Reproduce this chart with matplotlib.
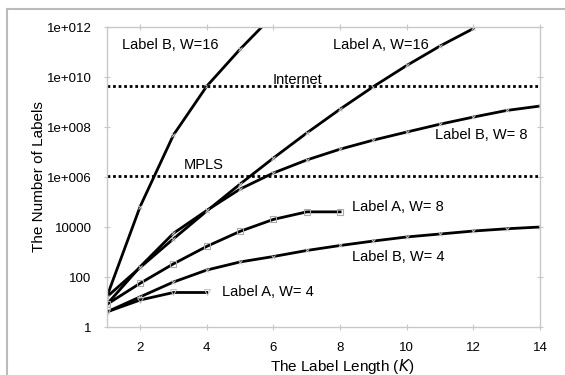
import numpy as np
import matplotlib
matplotlib.use("Agg")
import matplotlib.pyplot as plt
from matplotlib.lines import Line2D

plt.rcParams['font.family'] = ['Liberation Sans', 'DejaVu Sans']

# данные
k_a4 = [1, 2, 3, 4]
a4 = [4, 12, 24, 24]
k_a8 = [1, 2, 3, 4, 5, 6, 7, 8]
a8 = [8, 56, 336, 1680, 6720, 20160, 40320, 40320]
k_a16 = [1, 2, 3, 4, 5, 6, 7, 8, 9, 10, 11, 12]
a16 = [16, 240, 3360, 43680, 524160, 5765760, 57657600, 518918400,
       4151347200, 29059430400, 174356582400, 871782912000]

k_b = [1, 2, 3, 4, 5, 6, 7, 8, 9, 10, 11, 12, 13, 14]
b4 = [4, 16, 63, 190, 400, 660, 1150, 1820, 2750, 4000, 5250, 6900, 8500, 10000]
b8 = [8, 256, 5600, 46000, 3.3e5, 1.45e6, 4.8e6, 1.3e7, 3.0e7, 6.3e7,
      1.3e8, 2.5e8, 4.6e8, 6.9e8]
k_b16 = [1, 2, 3, 4, 5, 6]
b16 = [16, 65536, 4.8e7, 4.3e9, 1.3e11, 3e12]

internet = 4.29e9
mpls = 1.05e6

yticks = [1, 1e2, 1e4, 1e6, 1e8, 1e10, 1e12]
ytick_labels = ["1", "100", "10000", "1e+006", "1e+008", "1e+010", "1e+012"]
xticks = [2, 4, 6, 8, 10, 12, 14]

fig = plt.figure(figsize=(5.65, 3.75), dpi=100)
ax = fig.add_axes([0.189, 0.128, 0.767, 0.8])

lw = 2.0
mk = dict(markersize=3.5, markeredgecolor='#c4c4c4', markeredgewidth=0.7)
ax.plot(k_b16, b16, '-', color='black', lw=lw, marker='x', **mk)
ax.plot(k_a16, a16, '-', color='black', lw=lw, marker='x', **mk)
ax.plot(k_b, b8, '-', color='black', lw=lw, marker='x', **mk)
ax.plot(k_a8, a8, '-', color='black', lw=lw, marker='s', markerfacecolor='none',
        markersize=5, markeredgecolor='#aaaaaa', markeredgewidth=0.8)
ax.plot(k_b, b4, '-', color='black', lw=lw, marker='x', **mk)
ax.plot(k_a4, a4, '-', color='black', lw=lw, marker='v', markerfacecolor='none',
        markersize=4, markeredgecolor='#c4c4c4', markeredgewidth=0.7)

ax.axhline(internet, color='black', lw=2, linestyle=(0, (1, 1)))
ax.axhline(mpls, color='black', lw=2, linestyle=(0, (1, 1)))

ax.set_yscale('log')
ax.set_xlim(1, 14)
ax.set_ylim(1, 1e12)
ax.set_yticks(yticks)
ax.set_yticklabels(ytick_labels)
ax.set_xticks(xticks)
ax.minorticks_off()
ax.tick_params(direction='inout', length=4, color='#c8c8c8', labelsize=9.5,
               top=True, right=True)
ax.tick_params(axis='y', pad=9)
ax.tick_params(axis='x', pad=9)

for s in ax.spines.values():
    s.set_color('#c8c8c8')
    s.set_linewidth(1.0)

fs = 10.5
ax.text(1.45, 10**11.28, "Label B, W=16", fontsize=fs, va='center')
ax.text(7.79, 10**11.28, "Label A, W=16", fontsize=fs, va='center')
ax.text(5.98, 10**9.9, "Internet", fontsize=fs, va='center')
ax.text(3.31, 10**6.48, "MPLS", fontsize=fs, va='center')
ax.text(10.85, 10**7.68, "Label B, W= 8", fontsize=fs, va='center')
ax.text(8.36, 10**4.8, "Label A, W= 8", fontsize=fs, va='center')
ax.text(8.36, 10**2.8, "Label B, W= 4", fontsize=fs, va='center')
ax.text(4.45, 10**1.4, "Label A, W= 4", fontsize=fs, va='center')

ax.set_ylabel("The Number of Labels", fontsize=11)
ax.set_xlabel("The Label Length ($\\it{K}$)", fontsize=11)
ax.yaxis.set_label_coords(-0.14, 0.5)
ax.xaxis.set_label_coords(0.543, -0.10)

# рамка вокруг рисунка (видны только левая и верхняя стороны)
fig.add_artist(Line2D([0.0124, 0.0124], [0.0, 0.976], color='#bbbbbb', lw=1.5))
fig.add_artist(Line2D([0.0124, 1.0], [0.976, 0.976], color='#bbbbbb', lw=1.5))

fig.savefig("out.png", dpi=100)
